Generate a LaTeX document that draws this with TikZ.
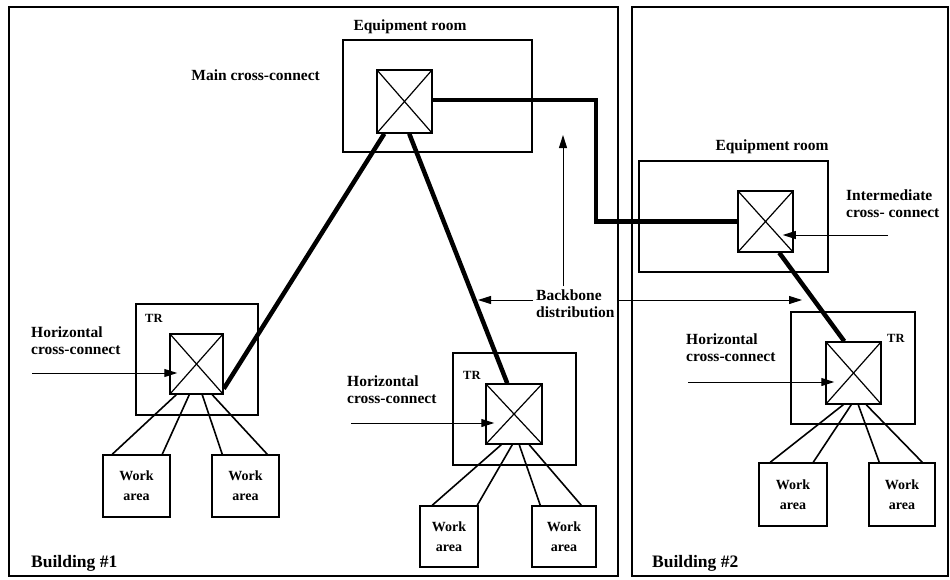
\documentclass[tikz,border=0pt]{standalone}
\usepackage{fontspec}
\setmainfont{Liberation Serif}
\usetikzlibrary{arrows.meta}
\tikzset{
  room/.style={draw, line width=1.5pt, inner sep=0pt},
  xbox/.style={draw, line width=1.5pt, inner sep=0pt,
    path picture={\draw[line width=1.2pt]
      (path picture bounding box.north west) -- (path picture bounding box.south east)
      (path picture bounding box.north east) -- (path picture bounding box.south west);}},
  wabox/.style={draw, line width=1.5pt, inner sep=0pt, align=center,
    font=\fontsize{14}{20}\selectfont\bfseries},
  cable/.style={line width=4.5pt},
  wire/.style={line width=1.6pt},
  pointer/.style={line width=1pt, -{Triangle[length=13pt,width=8pt]}},
  lbl/.style={inner sep=0pt, align=left, font=\fontsize{15.5}{17}\selectfont\bfseries},
  trlbl/.style={inner sep=0pt, font=\fontsize{12.5}{14}\selectfont\bfseries},
  bldlbl/.style={inner sep=0pt, font=\fontsize{17.5}{20}\selectfont\bfseries},
  frame/.style={line width=1.7pt}
}
\begin{document}
\begin{tikzpicture}[x=1pt,y=-1pt]
\useasboundingbox (0,0) rectangle (950,579);
% building frames
\draw[frame] (9,7) rectangle (618,576);
\draw[frame] (632,7) rectangle (948,576);

% ---- Building 1: equipment room
\node[room, minimum width=189pt, minimum height=112pt] (er1) at (437.5,96) {};
\node[xbox, minimum width=55pt, minimum height=63pt] (mc) at (404.5,101.5) {};
\node[lbl, anchor=base] (er1lbl) at (410,30) {Equipment room};
\node[lbl, anchor=base east] (mclbl) at (320,80) {Main cross-connect};

% ---- Building 1: TR left
\node[room, minimum width=122pt, minimum height=111pt] (tr1) at (197,359.5) {};
\node[xbox, minimum width=53pt, minimum height=60pt] (hc1) at (196.5,364) {};
\node[trlbl, anchor=base west] (tr1lbl) at (145,322) {TR};
\node[lbl, anchor=north west] (h1lbl) at (31,326.4) {Horizontal\\cross-connect};
\node[wabox, minimum width=67pt, minimum height=62pt] (wa1a) at (136.5,486) {Work\\area};
\node[wabox, minimum width=67pt, minimum height=62pt] (wa1b) at (245.5,486) {Work\\area};
\coordinate (a1) at (32,373);
\draw[pointer, shorten >=-8pt] (a1) -- (a1 -| hc1.west);
\draw[wire] ([xshift=7pt]hc1.south west) -- ([xshift=10pt]wa1a.north west);
\draw[wire] ([xshift=20pt]hc1.south west) -- ([xshift=60pt]wa1a.north west);
\draw[wire] ([xshift=33pt]hc1.south west) -- ([xshift=11pt]wa1b.north west);
\draw[wire] ([xshift=43pt]hc1.south west) -- ([xshift=56pt]wa1b.north west);

% ---- Building 1: TR right
\node[room, minimum width=123pt, minimum height=112pt] (tr2) at (514.5,409) {};
\node[xbox, minimum width=56pt, minimum height=60pt] (hc2) at (514,414) {};
\node[trlbl, anchor=base west] (tr2lbl) at (463,379) {TR};
\node[lbl, anchor=north west] (h2lbl) at (347,375.4) {Horizontal\\cross-connect};
\node[wabox, minimum width=58pt, minimum height=61pt] (wa2a) at (449,536.5) {Work\\area};
\node[wabox, minimum width=64pt, minimum height=61pt] (wa2b) at (564,536.5) {Work\\area};
\coordinate (a2) at (351,423);
\draw[pointer, shorten >=-9pt] (a2) -- (a2 -| hc2.west);
\draw[wire] ([xshift=16pt]hc2.south west) -- ([xshift=13pt]wa2a.north west);
\draw[wire] ([xshift=27pt]hc2.south west) -- ([xshift=58pt]wa2a.north west);
\draw[wire] ([xshift=34pt]hc2.south west) -- ([xshift=9pt]wa2b.north west);
\draw[wire] ([xshift=44pt]hc2.south west) -- ([xshift=50pt]wa2b.north west);

% ---- Building 2: equipment room
\node[room, minimum width=189pt, minimum height=111pt] (er2) at (733.5,216.5) {};
\node[xbox, minimum width=55pt, minimum height=61pt] (ic) at (765.5,221.5) {};
\node[lbl, anchor=base] (er2lbl) at (772,150) {Equipment room};
\node[lbl, anchor=north west] (iclbl) at (846,189.4) {Intermediate\\cross- connect};
\coordinate (a4) at (888,235);
\draw[pointer, shorten >=-11pt] (a4) -- (a4 -| ic.east);

% ---- Building 2: TR
\node[room, minimum width=124pt, minimum height=112pt] (tr3) at (853,368) {};
\node[xbox, minimum width=55pt, minimum height=62pt] (hc3) at (853.5,373) {};
\node[trlbl, anchor=base west] (tr3lbl) at (887,342) {TR};
\node[lbl, anchor=north west] (h3lbl) at (686,333.4) {Horizontal\\cross-connect};
\node[wabox, minimum width=68pt, minimum height=63pt] (wa3a) at (793,494.5) {Work\\area};
\node[wabox, minimum width=66pt, minimum height=63pt] (wa3b) at (902,494.5) {Work\\area};
\coordinate (a3) at (688,382);
\draw[pointer, shorten >=-9pt] (a3) -- (a3 -| hc3.west);
\draw[wire] ([xshift=18pt]hc3.south west) -- ([xshift=12pt]wa3a.north west);
\draw[wire] ([xshift=26pt]hc3.south west) -- ([xshift=55pt]wa3a.north west);
\draw[wire] ([xshift=33pt]hc3.south west) -- ([xshift=11pt]wa3b.north west);
\draw[wire] ([xshift=41pt]hc3.south west) -- ([xshift=54pt]wa3b.north west);

% ---- backbone cables
\draw[cable] ([xshift=8pt]mc.south west) -- ([yshift=6pt]hc1.south east);
\draw[cable] ([xshift=33pt]mc.south west) -- ([xshift=22pt]hc2.north west);
\coordinate (turn) at (596,160);
\draw[cable] ([yshift=1.5pt]mc.east) -- ([yshift=1.5pt]mc.east -| turn) -- (turn |- ic.west) -- (ic.west);
\draw[cable] ([xshift=42pt]ic.south west) -- ([xshift=19pt]hc3.north west);

% ---- backbone distribution label and pointers
\node[lbl, anchor=north west] (bb) at (536,289.4) {Backbone\\distribution};
\coordinate (bbl) at (478,300);
\coordinate (bbr) at (802,300);
\coordinate (bbu) at (563,135);
\draw[pointer] (bb.west |- bbl) ++(-3,0) -- (bbl);
\draw[pointer] (bb.east |- bbr) ++(2,0) -- (bbr);
\draw[pointer] (bbu |- bb.north) ++(0,-3) -- (bbu);

% building names
\node[bldlbl, anchor=base west] (b1) at (31,567) {Building \#1};
\node[bldlbl, anchor=base west] (b2) at (652,567) {Building \#2};
\end{tikzpicture}
\end{document}
